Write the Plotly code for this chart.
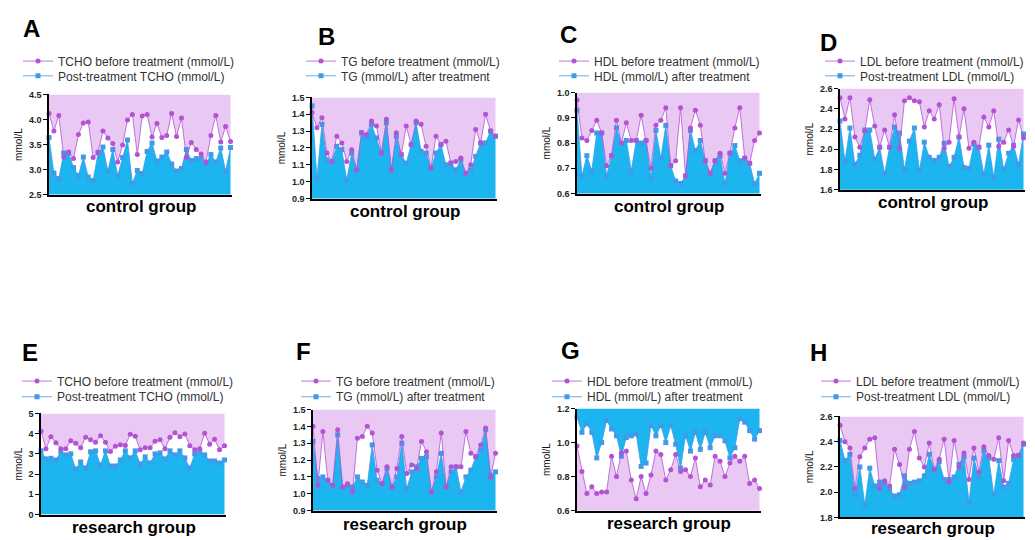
import plotly.graph_objects as go

# ---------------- data ----------------
patients = list(range(1, 39))

# control group
tcho_ctrl_before = [4.12, 3.77, 4.08, 3.25, 3.35, 3.22, 3.70, 3.93, 3.95, 3.24, 3.35, 3.77, 3.63, 3.52, 3.15, 3.49, 3.99, 4.10, 3.30,
                    4.07, 4.10, 3.65, 3.92, 3.64, 3.68, 4.12, 3.66, 4.03, 3.24, 3.54, 3.40, 3.31, 3.15, 3.68, 4.08, 3.55, 3.86, 3.56]
tcho_ctrl_after = [3.64, 2.93, 2.82, 3.33, 3.33, 3.04, 2.88, 3.25, 2.85, 2.78, 3.33, 3.45, 2.97, 3.40, 2.88, 3.24, 3.59, 2.72, 2.98,
                   2.92, 3.36, 3.53, 3.17, 3.25, 3.35, 3.11, 2.97, 3.02, 3.40, 3.18, 3.22, 3.22, 3.12, 3.30, 3.15, 3.43, 2.97, 3.44]

tg_ctrl_before = [1.41, 1.32, 1.38, 1.17, 1.12, 1.27, 1.23, 1.12, 1.19, 1.07, 1.29, 1.28, 1.36, 1.33, 1.17, 1.37, 1.07, 1.29, 1.16,
                  1.33, 1.22, 1.36, 1.34, 1.21, 1.08, 1.27, 1.22, 1.24, 1.11, 1.12, 1.14, 1.05, 1.10, 1.31, 1.23, 1.40, 1.30, 1.27]
tg_ctrl_after = [1.45, 1.02, 1.34, 1.13, 1.12, 1.21, 1.19, 1.01, 1.17, 1.07, 1.29, 1.27, 1.34, 1.26, 1.17, 1.35, 1.07, 1.27, 1.16,
                 1.11, 1.22, 1.35, 1.18, 1.17, 1.08, 1.17, 1.22, 1.10, 1.11, 1.07, 1.13, 1.05, 1.07, 1.15, 1.23, 1.23, 1.30, 1.27]

hdl_ctrl_before = [0.97, 0.82, 0.81, 0.85, 0.89, 0.84, 0.71, 0.75, 0.89, 0.80, 0.88, 0.81, 0.81, 0.91, 0.81, 0.70, 0.87, 0.89, 0.94,
                   0.71, 0.73, 0.94, 0.67, 0.86, 0.93, 0.87, 0.73, 0.68, 0.73, 0.76, 0.68, 0.76, 0.86, 0.94, 0.74, 0.72, 0.81, 0.84]
hdl_ctrl_after = [0.93, 0.67, 0.75, 0.69, 0.84, 0.84, 0.67, 0.75, 0.86, 0.80, 0.81, 0.69, 0.81, 0.80, 0.81, 0.66, 0.85, 0.74, 0.87,
                  0.71, 0.65, 0.64, 0.67, 0.85, 0.77, 0.81, 0.73, 0.68, 0.73, 0.75, 0.64, 0.76, 0.79, 0.73, 0.74, 0.72, 0.64, 0.68]

ldl_ctrl_before = [2.51, 2.30, 2.51, 2.12, 2.02, 2.18, 2.49, 2.23, 2.02, 2.19, 2.02, 2.34, 2.01, 2.48, 2.51, 2.48, 2.47, 2.22, 2.38,
                   2.30, 2.44, 2.01, 2.07, 2.50, 2.12, 2.40, 2.01, 2.07, 2.02, 2.32, 2.22, 2.38, 2.03, 2.07, 2.19, 2.03, 2.29, 2.11]
ldl_ctrl_after = [2.28, 1.88, 2.21, 1.85, 1.94, 2.19, 2.19, 1.90, 2.02, 1.76, 2.02, 2.22, 2.16, 1.80, 2.08, 2.21, 1.79, 2.07, 1.92,
                  1.89, 1.92, 2.06, 1.83, 1.92, 2.12, 1.82, 1.81, 2.05, 2.02, 1.75, 2.04, 1.72, 2.10, 1.80, 1.96, 2.04, 1.85, 2.15]

# research group
tcho_res_before = [4.12, 3.25, 3.85, 3.55, 3.25, 3.25, 3.65, 3.52, 3.30, 3.82, 3.70, 3.58, 3.90, 3.57, 3.12, 3.38, 3.45, 3.42, 3.97,
                   3.87, 3.20, 3.30, 3.30, 3.62, 3.70, 3.25, 3.82, 4.05, 3.85, 3.98, 3.40, 3.20, 3.25, 4.02, 3.48, 3.72, 3.20, 3.40]
tcho_res_after = [3.15, 2.75, 2.78, 2.70, 3.10, 2.95, 3.00, 2.25, 2.60, 2.30, 3.10, 3.15, 2.45, 3.15, 2.40, 2.40, 2.70, 3.15, 2.80,
                  3.15, 2.50, 2.85, 2.55, 3.00, 3.05, 2.75, 3.15, 2.95, 3.15, 2.80, 2.30, 3.00, 3.15, 2.95, 2.65, 2.65, 2.55, 2.70]

tg_res_before = [1.40, 1.05, 1.37, 1.08, 1.05, 1.38, 1.04, 1.06, 1.01, 1.33, 1.34, 1.40, 1.36, 1.14, 1.06, 1.16, 1.04, 1.15, 1.34,
                 1.12, 1.17, 1.15, 1.31, 1.25, 1.01, 1.13, 1.36, 1.04, 1.16, 1.16, 1.16, 1.37, 1.24, 1.22, 1.29, 1.39, 1.10, 1.24]
tg_res_after = [1.31, 1.09, 1.10, 1.08, 1.05, 1.35, 1.04, 1.05, 1.04, 1.10, 1.07, 1.05, 1.29, 1.08, 1.06, 1.15, 1.04, 1.10, 1.30,
                1.03, 1.13, 1.16, 1.21, 1.22, 1.01, 1.10, 1.24, 1.04, 1.13, 1.16, 1.01, 1.10, 1.14, 1.22, 1.26, 1.38, 1.11, 1.13]

hdl_res_before = [0.98, 0.83, 0.70, 0.74, 0.70, 0.71, 0.71, 0.92, 0.80, 0.94, 0.95, 0.78, 0.67, 0.80, 0.70, 0.81, 0.95, 0.93, 0.78,
                  0.84, 0.93, 0.83, 0.84, 0.80, 0.91, 0.74, 0.78, 0.75, 0.92, 0.89, 0.80, 0.88, 0.92, 0.89, 0.92, 0.76, 0.78, 0.73]
hdl_res_after = [1.15, 1.06, 1.11, 1.06, 0.91, 1.00, 1.13, 1.08, 1.04, 0.92, 1.03, 1.04, 1.05, 0.86, 0.88, 1.10, 1.04, 1.10, 1.00,
                 1.10, 0.99, 0.85, 1.04, 0.95, 1.06, 0.96, 1.06, 0.97, 1.04, 1.04, 1.01, 0.91, 0.97, 1.14, 1.12, 1.07, 1.02, 1.07]

ldl_res_before = [2.53, 2.40, 2.35, 2.03, 2.28, 2.35, 2.42, 2.43, 2.03, 2.09, 2.05, 2.34, 2.22, 2.04, 2.34, 2.48, 2.27, 2.20, 2.39,
                  2.18, 2.26, 2.42, 2.08, 2.41, 2.20, 2.31, 2.10, 2.35, 2.16, 2.36, 2.29, 2.26, 2.43, 2.09, 2.41, 2.29, 2.29, 2.39]
ldl_res_after = [2.41, 2.25, 2.30, 1.98, 2.20, 1.90, 2.19, 2.05, 2.08, 2.07, 2.02, 1.97, 1.98, 2.13, 2.07, 2.08, 2.09, 2.13, 2.30,
                 2.18, 2.24, 2.10, 2.10, 2.12, 2.22, 2.28, 1.92, 2.27, 2.12, 2.33, 2.27, 1.98, 2.25, 2.04, 2.07, 2.26, 2.29, 2.38]

letters = ["A", "B", "C", "D", "E", "F", "G", "H"]
group_labels = ["control group"] * 4 + ["research group"] * 4
before_names = ["TCHO before treatment (mmol/L)", "TG before treatment (mmol/L)",
                "HDL before treatment (mmol/L)", "LDL before treatment (mmol/L)"] * 2
after_names = ["Post-treatment TCHO (mmol/L)", "TG (mmol/L) after treatment",
               "HDL (mmol/L) after treatment", "Post-treatment LDL (mmol/L)"] * 2
before_series = [tcho_ctrl_before, tg_ctrl_before, hdl_ctrl_before, ldl_ctrl_before,
                 tcho_res_before, tg_res_before, hdl_res_before, ldl_res_before]
after_series = [tcho_ctrl_after, tg_ctrl_after, hdl_ctrl_after, ldl_ctrl_after,
                tcho_res_after, tg_res_after, hdl_res_after, ldl_res_after]
y_ranges = [(2.5, 4.5), (0.9, 1.5), (0.6, 1.0), (1.6, 2.6), (0, 5), (0.9, 1.5), (0.6, 1.2), (1.8, 2.6)]
y_dticks = [0.5, 0.1, 0.1, 0.2, 1, 0.1, 0.2, 0.2]
y_formats = [".1f", ".1f", ".1f", ".1f", "d", ".1f", ".1f", ".1f"]

# ---------------- layout geometry (screen pixels) ----------------
W, H = 1035, 540
OFF = 8  # page body margin offset
plot_boxes = [(49, 232, 91, 193), (312, 497, 94, 197), (577, 761, 89, 192), (840, 1025, 85, 188),
              (41, 226, 416, 519), (313, 497, 412, 515), (577, 761, 411, 515), (840, 1025, 419, 522)]
letter_pos = [(31, 24), (326, 32), (568, 30), (828, 38), (30, 354), (303, 353), (570, 352), (818, 354)]
label_y = [205, 210, 205, 201, 532, 529, 528, 533]
legend_text_x = [60, 343, 596, 862, 59, 338, 589, 858]
legend_rows = [(57, 72)] * 4 + [(383, 399)] * 4


def px(v):
    return (v - OFF) / W


def py(v):
    return 1 - (v - OFF) / H


PINK = "#E9C9F3"
BLUE_FILL = "#1DB5F0"
PURPLE = "#B452D4"
BLUE = "#3F9BE8"
FONT = "Liberation Sans, Arial, sans-serif"

fig = go.Figure()
layout = dict(width=W, height=H, margin=dict(l=0, r=0, t=0, b=0),
              paper_bgcolor="white", plot_bgcolor="white", showlegend=True,
              font=dict(family=FONT, color="#222"))
annotations = []

for i in range(8):
    sfx = "" if i == 0 else str(i + 1)
    xa, ya = "x" + sfx, "y" + sfx
    ymin, ymax = y_ranges[i]
    before, after = before_series[i], after_series[i]
    top = [ymax] * len(patients)
    inverted = (i == 6)
    common = dict(x=patients, xaxis=xa, yaxis=ya, hoverinfo="skip", showlegend=False, mode="lines")
    if not inverted:
        fig.add_trace(go.Scatter(y=top, line=dict(width=0), **common))
        fig.add_trace(go.Scatter(y=before, fill="tonexty", fillcolor=PINK, line=dict(width=0), **common))
        fig.add_trace(go.Scatter(y=after, fill="tozeroy", fillcolor=BLUE_FILL, line=dict(width=0), **common))
    else:
        fig.add_trace(go.Scatter(y=before, fill="tozeroy", fillcolor=PINK, line=dict(width=0), **common))
        fig.add_trace(go.Scatter(y=top, line=dict(width=0), **common))
        fig.add_trace(go.Scatter(y=after, fill="tonexty", fillcolor=BLUE_FILL, line=dict(width=0), **common))

    lg1 = "legend" if i == 0 else f"legend{2 * i + 1}"
    lg2 = f"legend{2 * i + 2}"
    fig.add_trace(go.Scatter(x=patients, y=after, xaxis=xa, yaxis=ya, mode="lines+markers",
                             name=after_names[i], legend=lg2, cliponaxis=False,
                             line=dict(color=BLUE, width=0.8),
                             marker=dict(symbol="square", size=5, color=BLUE)))
    fig.add_trace(go.Scatter(x=patients, y=before, xaxis=xa, yaxis=ya, mode="lines+markers",
                             name=before_names[i], legend=lg1, cliponaxis=False,
                             line=dict(color=PURPLE, width=0.8),
                             marker=dict(symbol="circle", size=5, color=PURPLE)))

    x0, x1, y0, y1 = plot_boxes[i]
    layout["xaxis" + sfx] = dict(domain=[px(x0), px(x1)], anchor=ya, range=[1, len(patients) + 0.3],
                                 showline=True, linecolor="black", linewidth=1.5, showticklabels=False,
                                 ticks="", showgrid=False, zeroline=False)
    layout["yaxis" + sfx] = dict(domain=[py(y1), py(y0)], anchor=xa, range=[ymin, ymax],
                                 dtick=y_dticks[i], tick0=ymin, tickformat=y_formats[i],
                                 showline=True, linecolor="black", linewidth=1.5,
                                 ticks="outside", ticklen=4, tickwidth=1.2, tickcolor="black",
                                 tickfont=dict(size=9, weight="bold", color="#222", family=FONT),
                                 showgrid=False, zeroline=False,
                                 title=dict(text="mmol/L", font=dict(size=10, color="#111", family=FONT),
                                            standoff=4))
    for lg, ry in ((lg1, legend_rows[i][0]), (lg2, legend_rows[i][1])):
        layout[lg] = dict(x=px(legend_text_x[i] - 42), xanchor="left", y=py(ry), yanchor="middle",
                          bgcolor="rgba(0,0,0,0)", borderwidth=0,
                          font=dict(size=12, color="#333", family=FONT),
                          itemwidth=30, tracegroupgap=0)
    lx, ly = letter_pos[i]
    annotations.append(dict(text=letters[i], x=px(lx), y=py(ly), xref="paper", yref="paper",
                            showarrow=False, xanchor="center", yanchor="middle",
                            font=dict(size=24, weight="bold", color="black", family=FONT)))
    annotations.append(dict(text=group_labels[i], x=px((x0 + x1) / 2), y=py(label_y[i]),
                            xref="paper", yref="paper", showarrow=False, xanchor="center", yanchor="middle",
                            font=dict(size=17, weight="bold", color="black", family=FONT)))

layout["annotations"] = annotations
fig.update_layout(**layout)
fig.write_html("out.html")
